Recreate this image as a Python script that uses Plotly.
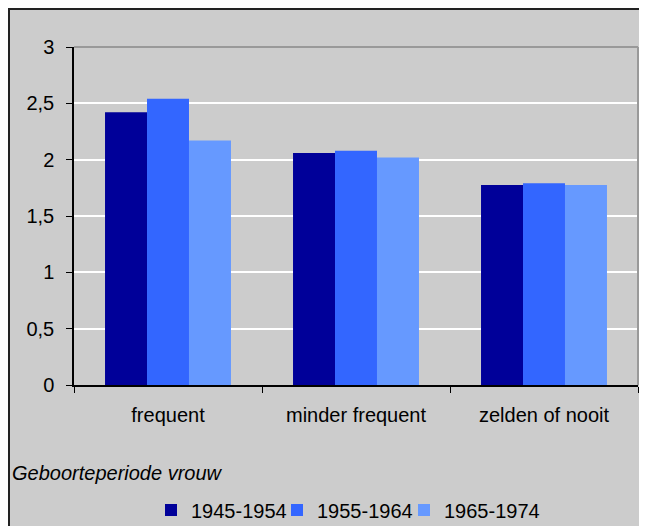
import plotly.graph_objects as go

categories = ["frequent", "minder frequent", "zelden of nooit"]
series_names = ["1945-1954", "1955-1964", "1965-1974"]
values_1945 = [2.42, 2.06, 1.775]
values_1955 = [2.54, 2.08, 1.79]
values_1965 = [2.17, 2.02, 1.775]
colors = ["#000099", "#3366FF", "#6699FF"]
y_ticks = [0, 0.5, 1, 1.5, 2, 2.5, 3]
y_tick_labels = ["0", "0,5", "1", "1,5", "2", "2,5", "3"]

# the page body has an 8px margin, so the figure is offset by 8px
OFF = 8
W, H = 647 - OFF, 526 - OFF
L, R, T, B = 74 - OFF, 9, 47 - OFF, 141
pw, ph = W - L - R, H - T - B

def px(xpage):
    return (xpage - OFF - L) / pw

def py(ypage):
    return (H - B - (ypage - OFF)) / ph

font_family = "Liberation Sans, Arial, sans-serif"
legend_ids = ["legend", "legend2", "legend3"]
legend_x = [151, 277, 404]

fig = go.Figure()
for name, vals, col, lid in zip(series_names, [values_1945, values_1955, values_1965],
                                colors, legend_ids):
    fig.add_trace(go.Bar(x=categories, y=vals, name=name, marker_color=col,
                         marker_line_width=0, legend=lid))

legend_style = dict(orientation="h", xanchor="left", y=py(510), yanchor="middle",
                    font=dict(size=20), bgcolor="rgba(0,0,0,0)", itemwidth=30)

fig.update_layout(
    width=W, height=H,
    margin=dict(l=L, r=R, t=T, b=B, autoexpand=False),
    paper_bgcolor="white",
    plot_bgcolor="#CCCCCC",
    barmode="group",
    bargap=0.33,
    bargroupgap=0,
    font=dict(family=font_family, size=20, color="black"),
    showlegend=True,
    legend=dict(x=px(legend_x[0]), **legend_style),
    legend2=dict(x=px(legend_x[1]), **legend_style),
    legend3=dict(x=px(legend_x[2]), **legend_style),
    xaxis=dict(showgrid=False, showline=True, linecolor="black", linewidth=1.5,
               ticks="outside", tickson="boundaries", ticklen=6, tickcolor="black",
               ticklabelstandoff=11, tickfont=dict(size=20)),
    yaxis=dict(range=[0, 3], tickvals=y_ticks, ticktext=y_tick_labels,
               showgrid=True, gridcolor="white", gridwidth=2,
               showline=True, linecolor="black", linewidth=1.5,
               ticks="outside", ticklen=6, tickcolor="black", zeroline=False,
               ticklabelstandoff=8, tickfont=dict(size=20)),
    shapes=[
        dict(type="rect", xref="paper", yref="paper", x0=px(9), x1=px(680), y0=py(560), y1=py(9),
             fillcolor="#CCCCCC", line=dict(color="#222222", width=2), layer="below"),
        dict(type="line", xref="paper", yref="paper", x0=0, x1=1, y0=1, y1=1,
             line=dict(color="#999999", width=2)),
        dict(type="line", xref="paper", yref="paper", x0=1, x1=1, y0=0, y1=1,
             line=dict(color="#999999", width=2)),
    ],
    annotations=[
        dict(text="<i>Geboorteperiode vrouw</i>", xref="paper", yref="paper",
             x=px(10), y=py(473), xanchor="left", yanchor="middle", showarrow=False,
             font=dict(size=20)),
    ],
)

fig.write_html("out.html")
